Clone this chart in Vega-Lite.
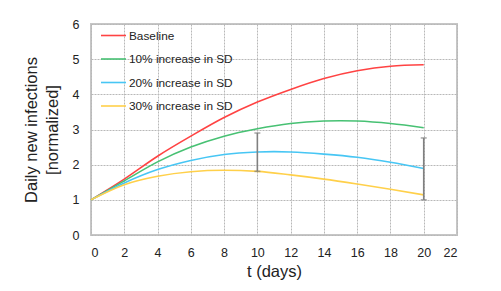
{
  "$schema": "https://vega.github.io/schema/vega-lite/v6.json",
  "autosize": {"type": "none"},
  "padding": {"left": 91, "top": 24, "right": 44, "bottom": 56},
  "width": 366,
  "height": 211,
  "background": "white",
  "view": {"stroke": "#c6c6c6", "strokeWidth": 2},
  "config": {
    "font": "Liberation Sans",
    "axis": {
      "labelFont": "Liberation Sans",
      "titleFont": "Liberation Sans",
      "labelFontSize": 12.5,
      "titleFontSize": 16.5,
      "labelColor": "#222",
      "titleColor": "#222",
      "titleFontWeight": "normal",
      "domain": false,
      "ticks": false,
      "grid": true,
      "labelOverlap": false,
      "gridColor": "#b8b8b8",
      "gridOpacity": 1,
      "gridDash": [2, 1],
      "gridWidth": 1
    }
  },
  "datasets": {
    "curves": [
      {"series": "Baseline", "t": 0, "v": 1.0},
      {"series": "Baseline", "t": 2, "v": 1.59},
      {"series": "Baseline", "t": 4, "v": 2.24},
      {"series": "Baseline", "t": 6, "v": 2.81},
      {"series": "Baseline", "t": 8, "v": 3.34},
      {"series": "Baseline", "t": 10, "v": 3.78},
      {"series": "Baseline", "t": 12, "v": 4.14},
      {"series": "Baseline", "t": 14, "v": 4.45},
      {"series": "Baseline", "t": 16, "v": 4.67},
      {"series": "Baseline", "t": 18, "v": 4.8},
      {"series": "Baseline", "t": 20, "v": 4.84},
      {"series": "10% increase in SD", "t": 0, "v": 1.0},
      {"series": "10% increase in SD", "t": 2, "v": 1.54},
      {"series": "10% increase in SD", "t": 4, "v": 2.08},
      {"series": "10% increase in SD", "t": 6, "v": 2.5},
      {"series": "10% increase in SD", "t": 8, "v": 2.81},
      {"series": "10% increase in SD", "t": 10, "v": 3.02},
      {"series": "10% increase in SD", "t": 12, "v": 3.17},
      {"series": "10% increase in SD", "t": 14, "v": 3.24},
      {"series": "10% increase in SD", "t": 15, "v": 3.25},
      {"series": "10% increase in SD", "t": 16, "v": 3.24},
      {"series": "10% increase in SD", "t": 18, "v": 3.17},
      {"series": "10% increase in SD", "t": 20, "v": 3.05},
      {"series": "20% increase in SD", "t": 0, "v": 1.0},
      {"series": "20% increase in SD", "t": 2, "v": 1.48},
      {"series": "20% increase in SD", "t": 4, "v": 1.86},
      {"series": "20% increase in SD", "t": 6, "v": 2.12},
      {"series": "20% increase in SD", "t": 8, "v": 2.29},
      {"series": "20% increase in SD", "t": 10, "v": 2.36},
      {"series": "20% increase in SD", "t": 11, "v": 2.37},
      {"series": "20% increase in SD", "t": 12, "v": 2.36},
      {"series": "20% increase in SD", "t": 14, "v": 2.3},
      {"series": "20% increase in SD", "t": 16, "v": 2.21},
      {"series": "20% increase in SD", "t": 18, "v": 2.07},
      {"series": "20% increase in SD", "t": 20, "v": 1.89},
      {"series": "30% increase in SD", "t": 0, "v": 1.0},
      {"series": "30% increase in SD", "t": 2, "v": 1.43},
      {"series": "30% increase in SD", "t": 4, "v": 1.67},
      {"series": "30% increase in SD", "t": 6, "v": 1.8},
      {"series": "30% increase in SD", "t": 8, "v": 1.84},
      {"series": "30% increase in SD", "t": 10, "v": 1.81},
      {"series": "30% increase in SD", "t": 12, "v": 1.71},
      {"series": "30% increase in SD", "t": 14, "v": 1.59},
      {"series": "30% increase in SD", "t": 16, "v": 1.45},
      {"series": "30% increase in SD", "t": 18, "v": 1.3},
      {"series": "30% increase in SD", "t": 20, "v": 1.14}
    ],
    "errors": [
      {"t": 10, "lo": 1.81, "hi": 2.9},
      {"t": 20, "lo": 1.0, "hi": 2.76}
    ]
  },
  "encoding": {
    "x": {
      "field": "t", "type": "quantitative",
      "scale": {"domain": [0, 22], "nice": false},
      "axis": {"values": [0, 2, 4, 6, 8, 10, 12, 14, 16, 18, 20, 22], "tickCount": 12, "format": "d", "grid": true, "title": "t (days)", "labelPadding": 11, "titlePadding": 5}
    }
  },
  "layer": [
    {
      "data": {"name": "curves"},
      "mark": {"type": "line", "interpolate": "monotone", "strokeWidth": 1.6},
      "encoding": {
        "y": {
          "field": "v", "type": "quantitative",
          "scale": {"domain": [0, 6], "nice": false},
          "axis": {"values": [0, 1, 2, 3, 4, 5, 6], "tickCount": 7, "format": "d", "grid": true, "title": ["Daily new infections", "[normalized]"], "labelPadding": 12, "titlePadding": 12, "titleLineHeight": 21}
        },
        "color": {
          "field": "series", "type": "nominal",
          "sort": ["Baseline", "10% increase in SD", "20% increase in SD", "30% increase in SD"],
          "scale": {
            "domain": ["Baseline", "10% increase in SD", "20% increase in SD", "30% increase in SD"],
            "range": ["#ff4343", "#47c173", "#47c6f4", "#ffd04a"]
          },
          "legend": {
            "title": null,
            "orient": "none",
            "legendX": 9,
            "legendY": -2,
            "symbolType": "stroke",
            "symbolSize": 625,
            "symbolStrokeWidth": 1.6,
            "labelFontSize": 11.8,
            "labelFont": "Liberation Sans",
            "labelColor": "#222",
            "labelOffset": 2,
            "rowPadding": 2.5
          }
        }
      }
    },
    {
      "data": {"name": "errors"},
      "mark": {"type": "rule", "color": "#808080", "strokeWidth": 1.6},
      "encoding": {
        "y": {
          "field": "lo", "type": "quantitative",
          "scale": {"domain": [0, 6], "nice": false},
          "axis": {"values": [0, 1, 2, 3, 4, 5, 6], "tickCount": 7, "format": "d", "grid": true, "title": ["Daily new infections", "[normalized]"], "labelPadding": 12, "titlePadding": 12, "titleLineHeight": 21}
        },
        "y2": {"field": "hi"}
      }
    },
    {
      "data": {"name": "errors"},
      "mark": {"type": "tick", "color": "#808080", "orient": "horizontal", "size": 6, "thickness": 1.5},
      "encoding": {
        "y": {
          "field": "lo", "type": "quantitative",
          "scale": {"domain": [0, 6], "nice": false},
          "axis": {"values": [0, 1, 2, 3, 4, 5, 6], "tickCount": 7, "format": "d", "grid": true, "title": ["Daily new infections", "[normalized]"], "labelPadding": 12, "titlePadding": 12, "titleLineHeight": 21}
        }
      }
    },
    {
      "data": {"name": "errors"},
      "mark": {"type": "tick", "color": "#808080", "orient": "horizontal", "size": 6, "thickness": 1.5},
      "encoding": {
        "y": {
          "field": "hi", "type": "quantitative",
          "scale": {"domain": [0, 6], "nice": false},
          "axis": {"values": [0, 1, 2, 3, 4, 5, 6], "tickCount": 7, "format": "d", "grid": true, "title": ["Daily new infections", "[normalized]"], "labelPadding": 12, "titlePadding": 12, "titleLineHeight": 21}
        }
      }
    }
  ]
}
